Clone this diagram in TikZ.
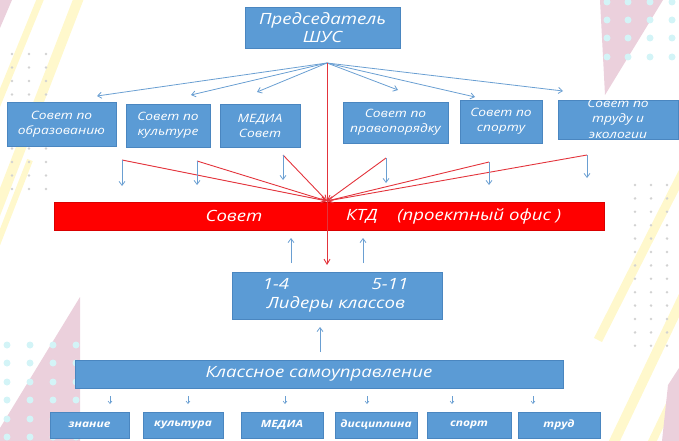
\documentclass[tikz,border=0pt]{standalone}
\usepackage{fontspec}
\setmainfont{Open Sans}
\newfontfamily\widefont{Open Sans}[FakeStretch=1.2]
\usetikzlibrary{arrows.meta}
\definecolor{boxblue}{HTML}{5B9BD5}
\definecolor{boxedge}{HTML}{4A86C0}
\definecolor{barred}{HTML}{FF0000}
\definecolor{linered}{HTML}{E3343C}
\definecolor{arrblue}{HTML}{6A9FD2}
\definecolor{decoyellow}{HTML}{FFF8CC}
\definecolor{decopink}{HTML}{EBD0DC}
\definecolor{decocyan}{HTML}{D3F4F7}
\definecolor{decogray}{HTML}{D2D2D2}
\begin{document}
\begin{tikzpicture}[x=1pt,y=-1pt,
  box/.style={rectangle, fill=boxblue, draw=boxedge, line width=0.6pt, text=white,
    font=\widefont\itshape\fontsize{11.5}{15}\selectfont, align=center, inner sep=0pt, outer sep=0pt},
  boxtext/.style={text=white, font=\widefont\itshape\fontsize{11.5}{15}\selectfont, align=center, inner sep=0pt},
  bigtext/.style={font=\widefont\itshape\fontsize{15.5}{18}\selectfont},
  smallbox/.style={box, font=\widefont\bfseries\itshape\fontsize{10}{12}\selectfont},
  bluearrow/.style={draw=arrblue, line width=0.8pt, -{Straight Barb[length=4pt,width=6pt]}},
  tinyarrow/.style={draw=arrblue, line width=0.6pt, -{Straight Barb[length=2.5pt,width=4pt]}},
  redarrow/.style={draw=linered, line width=0.9pt, -{Straight Barb[length=5pt,width=6pt]}}]
\useasboundingbox (0,0) rectangle (679,441);
% ---------- background decoration ----------
\begin{scope}
\draw[decoyellow, line width=10pt] (-5,215) -- (80,-5);
\draw[decoyellow, line width=7pt] (-5,110) -- (42,-5);
\draw[decoyellow, line width=6pt] (-5,250) -- (30,160);
\draw[decoyellow, line width=9pt] (598,340) -- (684,170);
\draw[decoyellow, line width=10pt] (612,446) -- (684,295);
\draw[decoyellow, line width=8pt] (650,446) -- (684,375);
\fill[decopink] (0,0) -- (12,0) -- (0,28) -- cycle;
\fill[decopink] (600,0) -- (663,0) -- (605,95) -- cycle;
\fill[decopink] (80,297) -- (80,441) -- (0,441) -- (0,428) -- cycle;
\fill[decopink] (679,368) -- (679,441) -- (662,441) -- (668,385) -- cycle;
\foreach \x in {607,628,650,672} \foreach \y in {2,20,38,57}
  \fill[decocyan] (\x,\y) circle (3.5pt);
\foreach \x in {7,30,53,76} \foreach \y in {345,363,382,400,419,437}
  \fill[decocyan] (\x,\y) circle (3.5pt);
\foreach \x in {12,29,46} \foreach \i in {0,...,10}
  \fill[decogray] (\x,54+13.5*\i) circle (1.4pt);
\foreach \x in {635,651,667} \foreach \i in {0,...,12}
  \fill[decogray] (\x,185+13.4*\i) circle (1.4pt);
\end{scope}
% ---------- nodes ----------
\node[box, bigtext, minimum width=155pt, minimum height=41pt] (pres) at (322.5,27.5) {Председатель\\ШУС};
\node[box, minimum width=109pt, minimum height=44pt] (c1) at (61.5,124) {Совет по\\образованию};
\node[box, minimum width=84pt, minimum height=43pt] (c2) at (168,125.5) {Совет по\\культуре};
\node[box, minimum width=80pt, minimum height=43pt] (c3) at (260,125.5) {МЕДИА\\Совет};
\node[box, minimum width=105pt, minimum height=41pt] (c4) at (395.5,122.5) {Совет по\\правопорядку};
\node[box, minimum width=82pt, minimum height=43pt] (c5) at (501,121.5) {Совет по\\спорту};
\node[box, minimum width=120pt, minimum height=39pt] (c6) at (618,119.5) {};
\node[boxtext, font=\widefont\itshape\fontsize{11.5}{15.5}\selectfont] (c6t) at (618,118.5) {Совет по\\труду и\\экологии};
\node[rectangle, fill=barred, draw=red!85!black, line width=0.4pt, minimum width=550pt, minimum height=28pt, inner sep=0pt] (bar) at (329,216) {};
\node[boxtext, bigtext] (bart1) at (234,216) {Совет};
\node[boxtext, bigtext, anchor=west] (bart2) at (346,216) {КТД\quad\;(проектный офис )};
\node[box, minimum width=210pt, minimum height=47pt] (lead) at (337,295.5) {};
\node[boxtext, bigtext] (l14) at (276,284) {1-4};
\node[boxtext, bigtext] (l511) at (390,284) {5-11};
\node[boxtext, bigtext] (lt) at (336,304) {Лидеры классов};
\node[box, bigtext, minimum width=488pt, minimum height=28pt] (klass) at (319,374) {Классное самоуправление};
\node[smallbox, minimum width=79pt, minimum height=26pt] (b1) at (89.5,425) {знание};
\node[smallbox, minimum width=80pt, minimum height=26pt] (b2) at (183,425) {культура};
\node[smallbox, minimum width=82pt, minimum height=26pt] (b3) at (282,425) {МЕДИА};
\node[smallbox, minimum width=82pt, minimum height=26pt] (b4) at (376,425) {дисциплина};
\node[smallbox, minimum width=84pt, minimum height=26pt] (b5) at (469,425) {спорт};
\node[smallbox, minimum width=82pt, minimum height=26pt] (b6) at (559,425) {труд};
% ---------- coordinates ----------
\coordinate (hub) at (327,63);
\coordinate (hubend) at (327,265);
\coordinate (conv) at (327,201);
\coordinate (t1) at (97,96);
\coordinate (t2) at (191,95);
\coordinate (t3) at (257,92);
\coordinate (t4) at (398,90);
\coordinate (t5) at (475,97);
\coordinate (t6) at (563,91);
\coordinate (r1) at (122,160);
\coordinate (r2) at (197,161);
\coordinate (r3) at (283,155);
\coordinate (r4) at (386,158);
\coordinate (r5) at (489,162);
\coordinate (r6) at (587,155);
\coordinate (d1) at (122,186);
\coordinate (d2) at (197,185);
\coordinate (d3) at (283,180);
\coordinate (d4) at (386,183);
\coordinate (d5) at (489,185);
\coordinate (d6) at (587,178);
\coordinate (u1s) at (291,263);
\coordinate (u1e) at (291,238);
\coordinate (u2s) at (363,263);
\coordinate (u2e) at (363,238);
\coordinate (u3s) at (320,352);
\coordinate (u3e) at (320,327);
% ---------- connectors ----------
\foreach \t in {t1,t2,t3,t4,t5,t6} \draw[bluearrow] (hub) -- (\t);
\foreach \r in {r1,r2,r3,r4,r5,r6} \draw[redarrow] (\r) -- (conv);
\draw[redarrow] (hub) -- (hubend);
\foreach \i in {1,...,6} \draw[bluearrow] (r\i) -- (d\i);
\draw[bluearrow] (u1s) -- (u1e);
\draw[bluearrow] (u2s) -- (u2e);
\draw[bluearrow] (u3s) -- (u3e);
\foreach \x/\b in {110/b1,188/b2,285/b3,367/b4,452/b5,533/b6}
  \draw[tinyarrow] (\x,396) -- (\x,404);
\end{tikzpicture}
\end{document}
